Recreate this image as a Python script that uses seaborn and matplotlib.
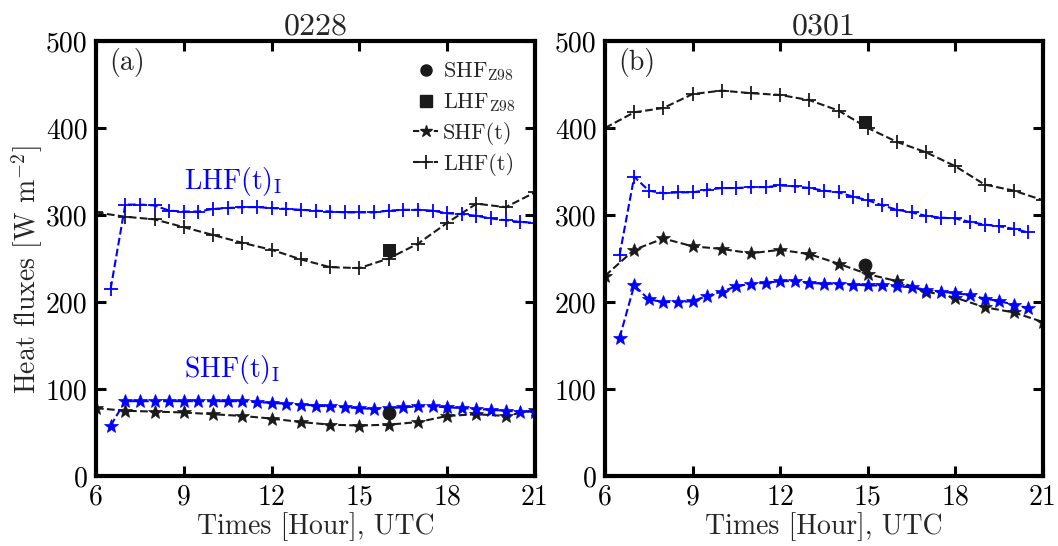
import numpy as np
import pandas as pd
import matplotlib
matplotlib.use("Agg")
import matplotlib.pyplot as plt
from matplotlib.lines import Line2D
import seaborn as sns

# ---------------- data ----------------
hours = [6, 7, 8, 9, 10, 11, 12, 13, 14, 15, 16, 17, 18, 19, 20, 21]
half_a = [6.5 + 0.5 * i for i in range(30)]   # 6.5 ... 21
half_b = [6.5 + 0.5 * i for i in range(29)]   # 6.5 ... 20.5

a_lhf = [303, 298, 295, 286, 277, 268, 260, 249, 240, 239, 250, 267, 291, 313, 309, 326]
a_shf = [78, 75, 74, 73, 71, 69, 66, 62, 59, 58, 59, 62, 69, 71, 69, 76]
a_lhf_i = [215, 312, 312, 311, 305, 304, 304, 307, 308, 309, 309, 308, 307, 306, 305,
           304, 303, 303, 303, 305, 306, 306, 305, 302, 301, 299, 296, 294, 292, 291]
a_shf_i = [58, 86, 86, 86, 86, 86, 86, 86, 86, 86, 85, 84, 83, 82, 81,
           80, 79, 78, 77, 78, 79, 80, 80, 79, 78, 77, 76, 75, 74, 74]

b_lhf = [400, 418, 423, 439, 443, 440, 438, 432, 420, 400, 384, 372, 356, 335, 328, 317]
b_shf = [230, 260, 273, 264, 261, 256, 260, 255, 244, 232, 224, 212, 205, 194, 188, 177]
b_lhf_i = [254, 344, 328, 325, 326, 326, 329, 331, 331, 332, 332, 334, 333, 331, 328,
           326, 321, 317, 311, 306, 303, 299, 297, 296, 292, 289, 287, 284, 280]
b_shf_i = [159, 219, 203, 200, 200, 201, 207, 212, 218, 221, 222, 224, 224, 222, 221,
           221, 220, 219, 219, 218, 217, 214, 212, 210, 208, 204, 201, 197, 193]

z98_time = [16.0, 14.9]
z98_shf = [72, 242]
z98_lhf = [260, 407]

titles = ["0228", "0301"]
panel_tags = ["(a)", "(b)"]
xticks = [6, 9, 12, 15, 18, 21]
yticks = [0, 100, 200, 300, 400, 500]

# ---------------- style ----------------
sns.set_theme(style="white")
plt.rcParams.update({
    "font.family": "serif",
    "font.serif": ["cmr10"],
    "mathtext.fontset": "cm",
    "axes.unicode_minus": False,
    "axes.formatter.use_mathtext": True,
    "axes.linewidth": 3.0,
    "axes.edgecolor": "black",
    "xtick.direction": "in",
    "ytick.direction": "in",
    "xtick.major.size": 7,
    "ytick.major.size": 7,
    "xtick.major.width": 2.2,
    "ytick.major.width": 2.2,
    "xtick.major.pad": 6,
    "ytick.major.pad": 6,
    "xtick.top": True,
    "ytick.right": True,
    "xtick.bottom": True,
    "ytick.left": True,
})

fig = plt.figure(figsize=(10.58, 5.46), dpi=100)
ax_a = fig.add_axes([96 / 1058, 70 / 546, 439 / 1058, 435 / 546])
ax_b = fig.add_axes([605 / 1058, 70 / 546, 438 / 1058, 435 / 546])

blue = "#0000ff"
lw = 1.5
FS = 20


def draw(ax, lhf, shf, half, lhf_i, shf_i, zt, zs, zl, title, tag):
    sns.lineplot(x=hours, y=lhf, ax=ax, color="k", linestyle="--", lw=lw,
                 marker="+", markersize=10, markeredgewidth=1.3,
                 markeredgecolor="k")
    sns.lineplot(x=hours, y=shf, ax=ax, color="k", linestyle="--", lw=lw,
                 marker="*", markersize=10, markeredgewidth=0.5,
                 markeredgecolor="k", markerfacecolor="k")
    sns.lineplot(x=half, y=lhf_i, ax=ax, color=blue, linestyle="--", lw=lw,
                 marker="+", markersize=10, markeredgewidth=1.3,
                 markeredgecolor=blue)
    sns.lineplot(x=half, y=shf_i, ax=ax, color=blue, linestyle="--", lw=lw,
                 marker="*", markersize=10, markeredgewidth=0.5,
                 markeredgecolor=blue, markerfacecolor=blue)
    sns.scatterplot(x=[zt], y=[zs], ax=ax, color="k", marker="o", s=85,
                    edgecolor="k", zorder=5)
    sns.scatterplot(x=[zt], y=[zl], ax=ax, color="k", marker="s", s=80,
                    edgecolor="k", zorder=5)
    ax.set_xlim(6, 21)
    ax.set_ylim(0, 500)
    ax.set_xticks(xticks)
    ax.set_xticklabels([str(v) for v in xticks])
    ax.set_yticks(yticks)
    ax.set_yticklabels([str(v) for v in yticks])
    ax.tick_params(labelsize=FS, colors="black")
    ax.set_title(title, fontsize=23, pad=5)
    ax.set_xlabel("Times [Hour], UTC", fontsize=FS, labelpad=1)
    ax.text(0.03, 0.985, tag, transform=ax.transAxes, fontsize=FS,
            ha="left", va="top")
    for s in ax.spines.values():
        s.set_linewidth(3.0)
        s.set_color("black")
    if ax.get_legend() is not None:
        ax.get_legend().remove()


draw(ax_a, a_lhf, a_shf, half_a, a_lhf_i, a_shf_i,
     z98_time[0], z98_shf[0], z98_lhf[0], titles[0], panel_tags[0])
draw(ax_b, b_lhf, b_shf, half_b, b_lhf_i, b_shf_i,
     z98_time[1], z98_shf[1], z98_lhf[1], titles[1], panel_tags[1])

ax_a.set_ylabel(r"Heat fluxes [W m$^{-2}$]", fontsize=FS)
ax_a.yaxis.set_label_coords(-0.116, 0.475)
ax_b.set_ylabel("")

ax_a.text(9.0, 338, r"LHF(t)$_{\rm I}$", color=blue, fontsize=FS,
          ha="left", va="center")
ax_a.text(9.0, 122, r"SHF(t)$_{\rm I}$", color=blue, fontsize=FS,
          ha="left", va="center")

handles = [
    Line2D([], [], color="k", marker="o", linestyle="none", markersize=8),
    Line2D([], [], color="k", marker="s", linestyle="none", markersize=8),
    Line2D([], [], color="k", marker="*", linestyle="--", lw=lw, markersize=9,
           dashes=(3, 2)),
    Line2D([], [], color="k", marker="+", linestyle="--", lw=lw, markersize=10,
           markeredgewidth=1.3, dashes=(3, 2)),
]
labels = [r"SHF$_{\rm Z98}$", r"LHF$_{\rm Z98}$", "SHF(t)", "LHF(t)"]
ax_a.legend(handles, labels, loc="upper right", frameon=False, fontsize=16,
            handlelength=1.15, handletextpad=0.2, labelspacing=0.36,
            borderaxespad=0.0, borderpad=0.0, bbox_to_anchor=(0.955, 0.955))

fig.savefig("out.png", dpi=100)
